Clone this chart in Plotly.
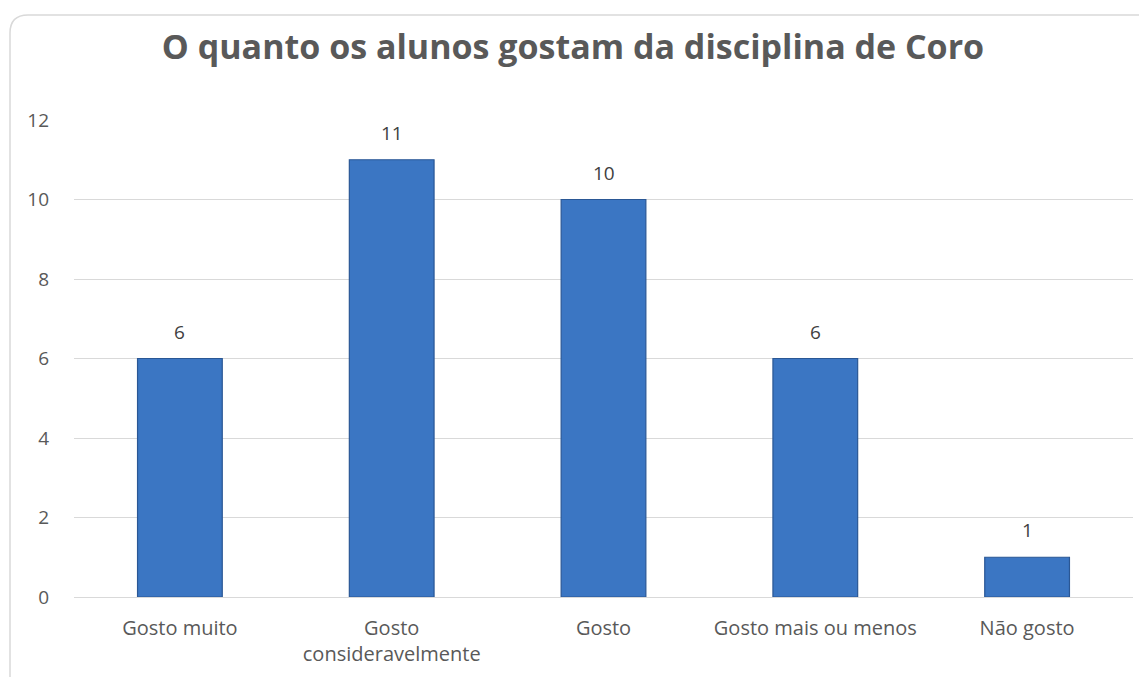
import plotly.graph_objects as go

categories = ["Gosto muito", "Gosto<br>consideravelmente", "Gosto", "Gosto mais ou menos", "Não gosto"]
values = [6, 11, 10, 6, 1]
y_ticks = [0, 2, 4, 6, 8, 10, 12]
title_text = "O quanto os alunos gostam da disciplina de Coro"

# page has an 8px body margin; size the figure so it fits the 1147x677 window
OFF = 8
W, H = 1147 - OFF, 677 - OFF
ml, mr, mt, mb = 74 - OFF, 14, 120 - OFF, 80
pw, ph = W - ml - mr, H - mt - mb

def px_to_paper_x(px):
    return (px - OFF - ml) / pw

def px_to_paper_y(py):
    return (H - mb - (py - OFF)) / ph

FONT = "Open Sans, sans-serif"

fig = go.Figure()
fig.add_trace(go.Bar(
    x=categories, y=values,
    marker=dict(color="#3b76c3", line=dict(color="#2a5795", width=1.2)),
    width=0.4,
    cliponaxis=False,
))

annotations = [dict(x=c, y=v, xref="x", yref="y", text=str(v), showarrow=False,
                    yanchor="bottom", yshift=12,
                    font=dict(family=FONT, size=19, color="#404040"))
               for c, v in zip(categories, values)]

left, top, rad = 10, 15, 18
path = (f"M {px_to_paper_x(left)} {px_to_paper_y(700)} "
        f"L {px_to_paper_x(left)} {px_to_paper_y(top+rad)} "
        f"Q {px_to_paper_x(left)} {px_to_paper_y(top)} {px_to_paper_x(left+rad)} {px_to_paper_y(top)} "
        f"L {px_to_paper_x(1170)} {px_to_paper_y(top)}")

fig.update_layout(
    width=W, height=H,
    margin=dict(l=ml, r=mr, t=mt, b=mb, autoexpand=False),
    paper_bgcolor="white", plot_bgcolor="white",
    title=dict(text=f"<b>{title_text}</b>", x=(573 - OFF) / W, xref="container", xanchor="center",
               y=1 - (47 - OFF) / H, yanchor="middle",
               font=dict(family=FONT, size=34, color="#595959")),
    showlegend=False,
    bargap=0.6,
    annotations=annotations,
    shapes=[dict(type="path", path=path, xref="paper", yref="paper",
                 line=dict(color="#d9d9d9", width=1.5), layer="below")],
    font=dict(family=FONT, size=20, color="#595959"),
)
fig.update_yaxes(range=[0, 12], tickvals=y_ticks, showgrid=True, gridcolor="#d9d9d9", gridwidth=1,
                 zeroline=True, zerolinecolor="#d9d9d9", zerolinewidth=1, showline=False,
                 ticks="", ticklen=0, ticklabelstandoff=24, automargin=False,
                 tickfont=dict(family=FONT, size=19, color="#595959"))
fig.update_xaxes(showline=False, ticks="", ticklabelstandoff=17, tickangle=0, automargin=False,
                 tickfont=dict(family=FONT, size=20, color="#595959"))

fig.write_html("out.html")
